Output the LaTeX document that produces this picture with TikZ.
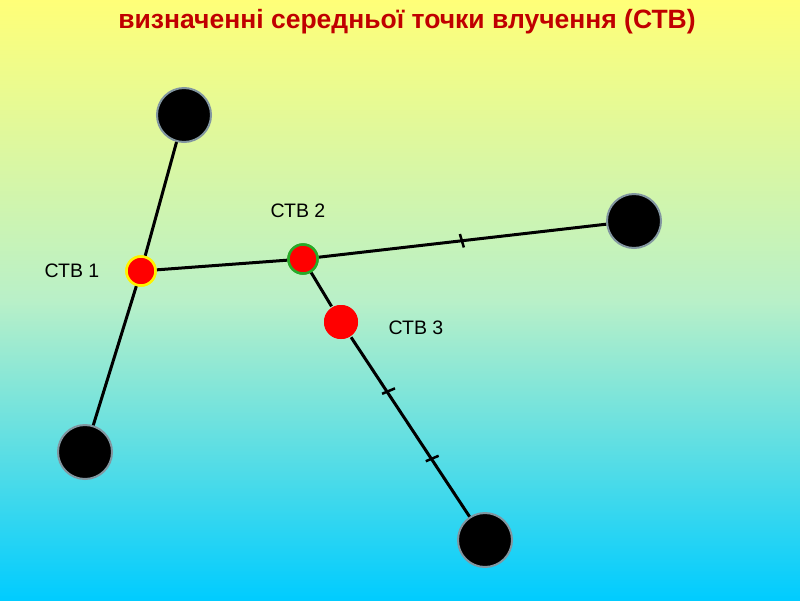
\documentclass[tikz,border=0pt]{standalone}
\usepackage{fontspec}
\setmainfont{Liberation Sans}
\usetikzlibrary{calc}
\definecolor{titlered}{RGB}{192,0,0}
\definecolor{bgtop}{RGB}{255,255,120}
\definecolor{bgmid}{RGB}{185,240,200}
\definecolor{bgbot}{RGB}{0,204,255}
\definecolor{rimgray}{RGB}{130,150,160}
\definecolor{rimgreen}{RGB}{40,170,40}
\tikzset{
  target/.style={circle,fill=black,draw=rimgray,line width=2pt,minimum size=54pt,inner sep=0pt},
  ctbdot/.style={circle,fill=red,line width=2.5pt,minimum size=30pt,inner sep=0pt},
  link/.style={line width=3pt,black},
  lbl/.style={font=\fontsize{19.5}{22}\selectfont,text=black},
  tick/.style={line width=2.5pt,black}
}
\begin{document}
\begin{tikzpicture}[x=1pt,y=-1pt]
\shade[top color=bgtop,bottom color=bgbot,middle color=bgmid] (0,0) rectangle (800,600);
\useasboundingbox (0,0) rectangle (800,600);
\node[font=\fontsize{26.5}{30}\selectfont\bfseries,text=titlered] (title) at (407,22) {визначенні середньої точки влучення (СТВ)};
% targets
\node[target] (A) at (184,115) {};
\node[target] (B) at (85,452) {};
\node[target] (C) at (634,221) {};
\node[target] (D) at (485,540) {};
% centre points
\node[ctbdot,draw=yellow,minimum size=29pt] (P1) at (141,271) {};
\node[ctbdot,draw=rimgreen,minimum size=29pt] (P2) at (303,259) {};
\node[ctbdot,draw=none,minimum size=34pt] (P3) at (341,322) {};
% links
\draw[link] (A) -- (P1);
\draw[link] (P1) -- (B);
\draw[link] (P1) -- (P2);
\draw[link] (P2) -- (C);
\draw[link] (P2) -- (P3);
\draw[link] (P3) -- (D);
% ticks
\coordinate (t1) at ($(P2)!0.48!(C)$);
\draw[tick] ($(t1)!7pt!100:(C)$) -- ($(t1)!7pt!-80:(C)$);
\coordinate (t2) at ($(P2.center)!0.47!(D.center)$);
\draw[tick] ($(t2)!7pt!80:(D)$) -- ($(t2)!7pt!-100:(D)$);
\coordinate (t3) at ($(P2.center)!0.71!(D.center)$);
\draw[tick] ($(t3)!7pt!80:(D)$) -- ($(t3)!7pt!-100:(D)$);
% redraw dots on top
\node[ctbdot,draw=yellow,minimum size=29pt] at (141,271) {};
\node[ctbdot,draw=rimgreen,minimum size=29pt] at (303,259) {};
\node[ctbdot,draw=none,minimum size=34pt] at (341,322) {};
% labels
\node[lbl] (L1) at (72,271) {СТВ 1};
\node[lbl] (L2) at (298,211) {СТВ 2};
\node[lbl] (L3) at (416,328) {СТВ 3};
\end{tikzpicture}
\end{document}
